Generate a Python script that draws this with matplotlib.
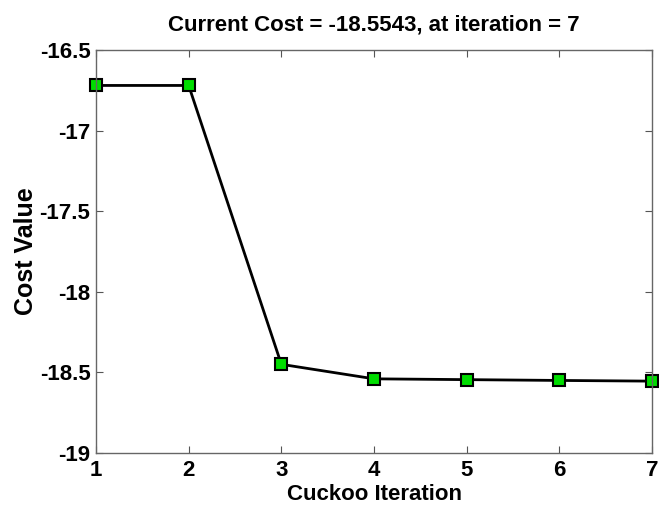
import matplotlib
matplotlib.use('Agg')
import matplotlib.pyplot as plt

plt.rcParams['font.family'] = ['Liberation Sans', 'DejaVu Sans']
plt.rcParams['font.weight'] = 'bold'

iterations = [1, 2, 3, 4, 5, 6, 7]
cost = [-16.72, -16.72, -18.45, -18.54, -18.545, -18.55, -18.5543]
yticks = [-19, -18.5, -18, -17.5, -17, -16.5]
ytick_labels = ['-19', '-18.5', '-18', '-17.5', '-17', '-16.5']

fig = plt.figure(figsize=(6.59, 5.08), dpi=100)
ax = fig.add_axes([0.1457, 0.1083, 0.8437, 0.7933])

ax.plot(iterations, cost, color='black', linewidth=2,
        marker='s', markersize=9, markerfacecolor='#00dd00',
        markeredgecolor='black', markeredgewidth=1.5, clip_on=False)

ax.set_xlim(1, 7)
ax.set_ylim(-19, -16.5)
ax.set_xticks(iterations)
ax.set_yticks(yticks)
ax.set_yticklabels(ytick_labels)
ax.tick_params(direction='in', top=True, right=True, length=5, width=0.8,
               color='#555555', labelsize=16, pad=4)
ax.tick_params(axis='x', pad=5)
for s in ax.spines.values():
    s.set_color('#666666')
    s.set_linewidth(1)

ax.set_xlabel('Cuckoo Iteration', fontsize=16, fontweight='bold', labelpad=2)
ax.set_ylabel('Cost Value', fontsize=18, fontweight='bold', labelpad=1)
ax.set_title('Current Cost = %.4f, at iteration = %d' % (cost[-1], iterations[-1]),
             fontsize=16, fontweight='bold', pad=14)

fig.savefig('out.png', dpi=100)
